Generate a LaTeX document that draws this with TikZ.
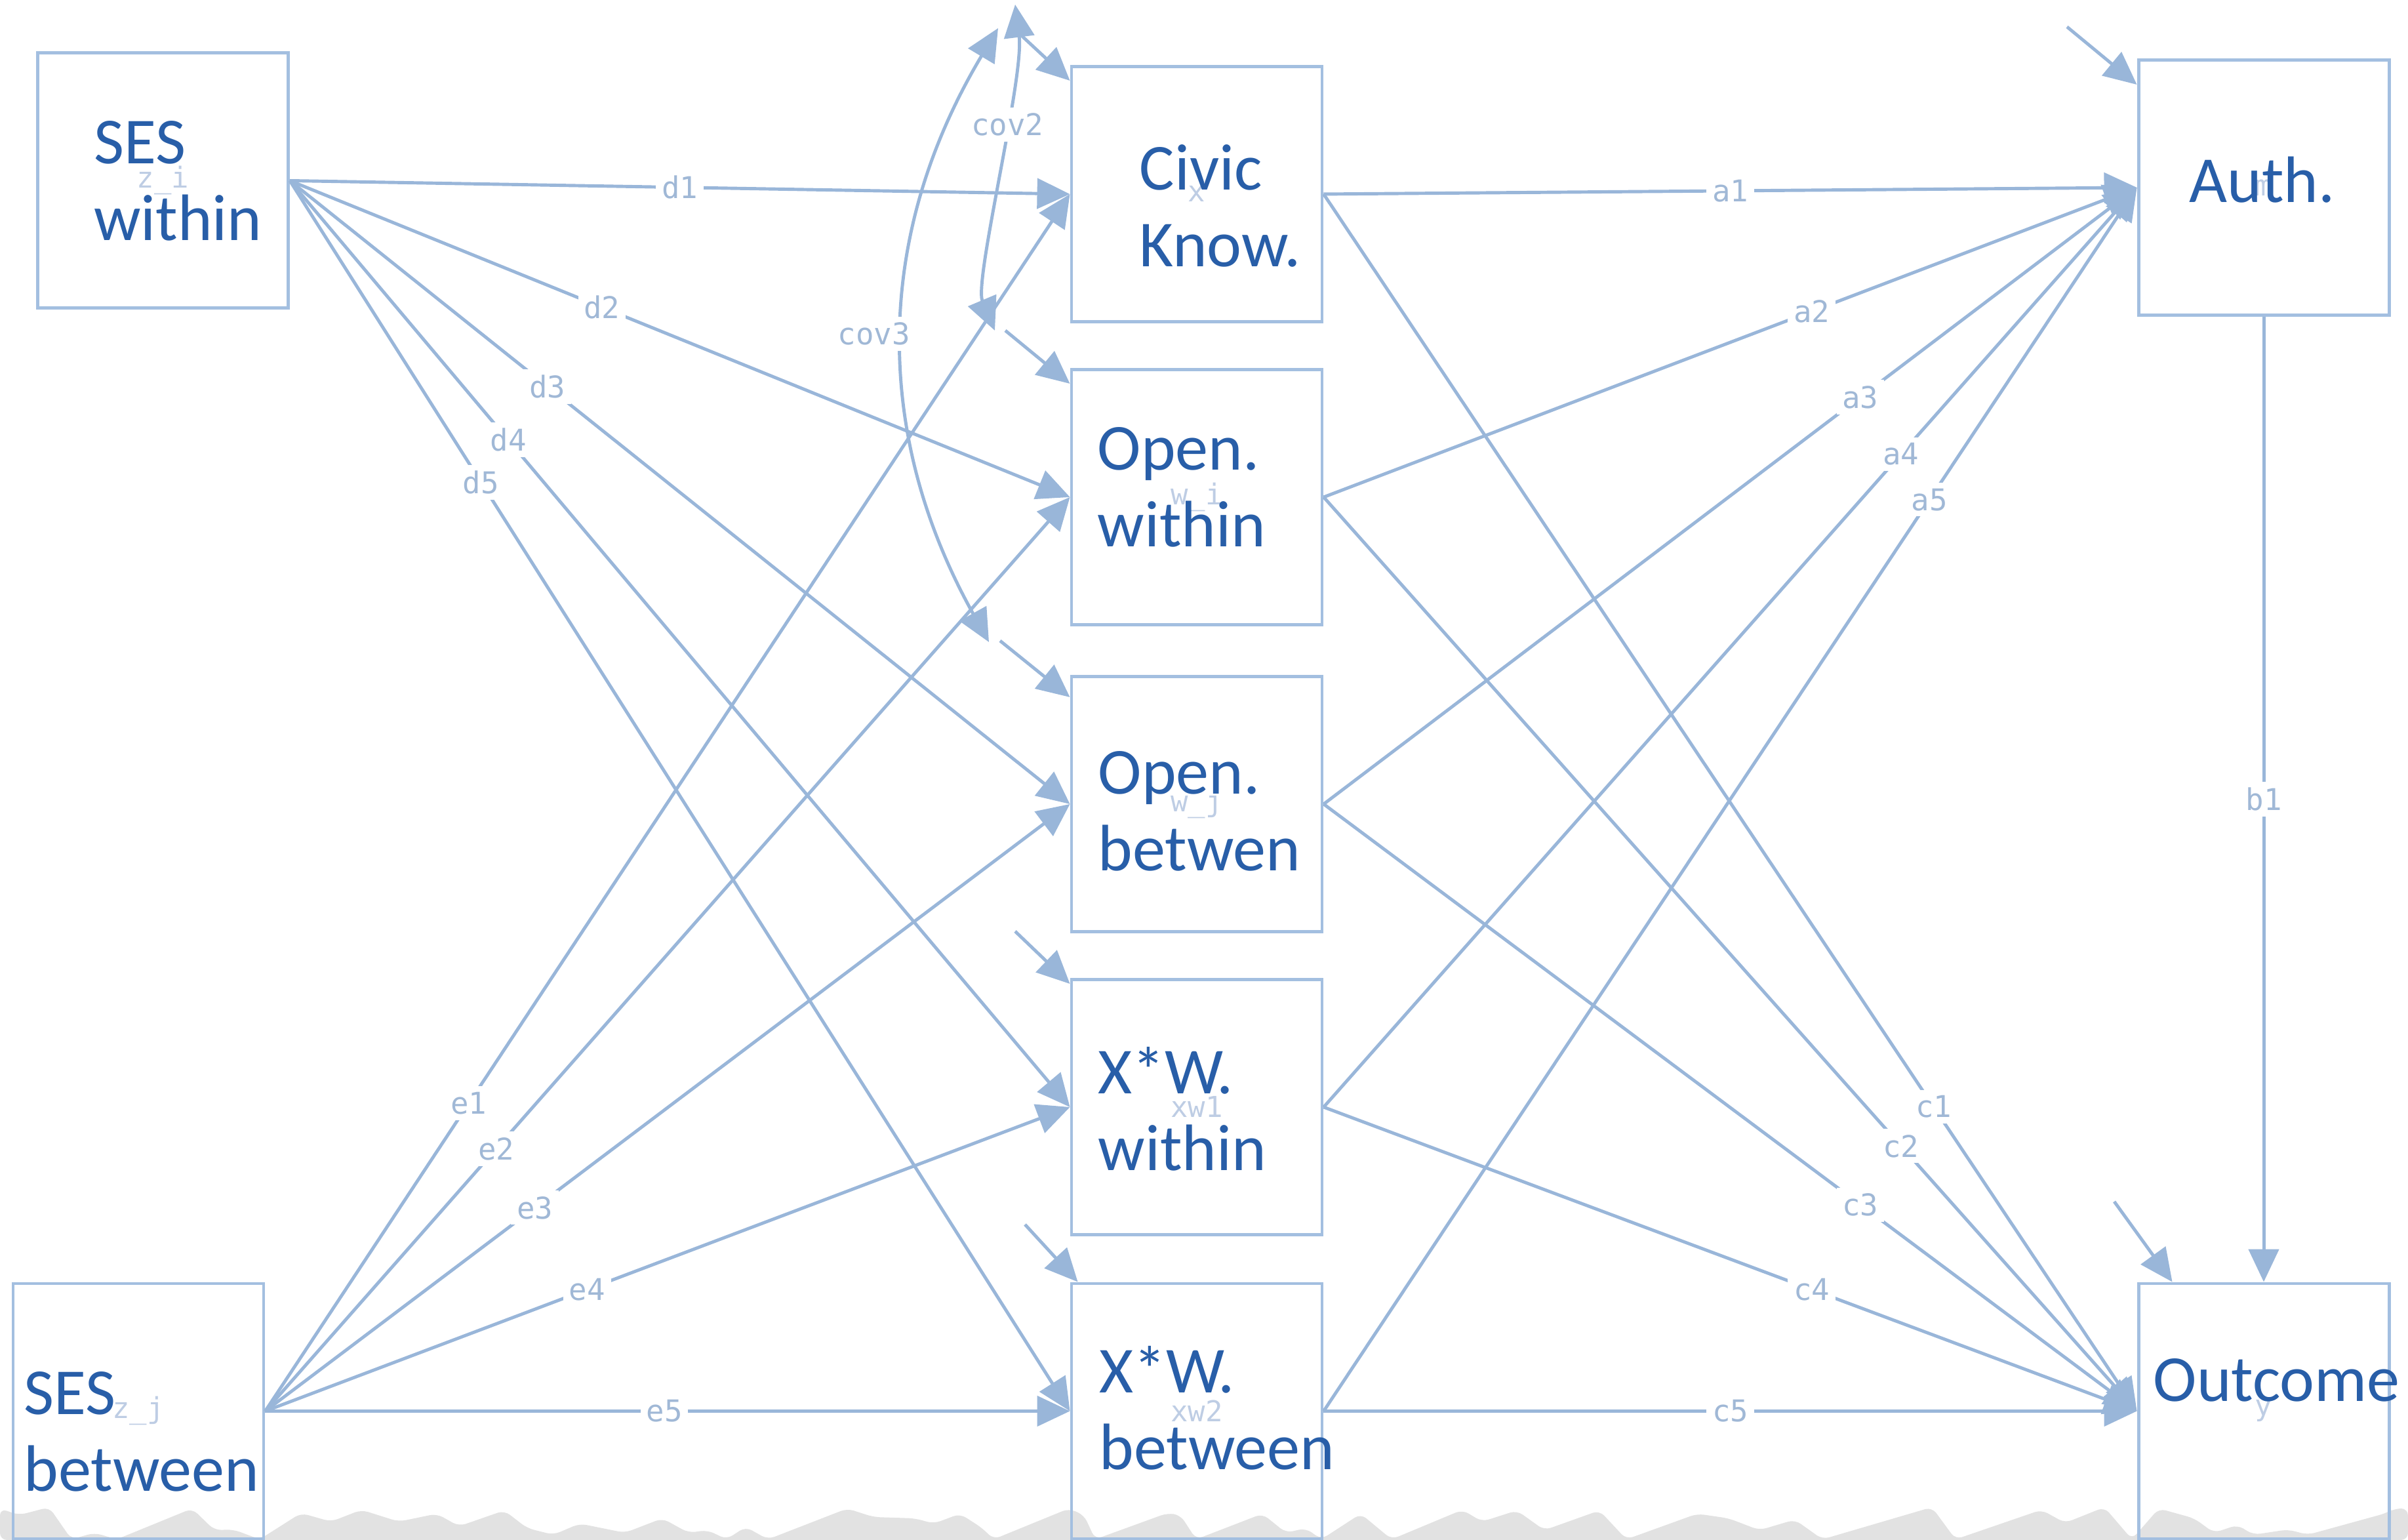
\documentclass[tikz,border=0pt]{standalone}
\usepackage{fontspec}
\setmainfont{Carlito}
\newfontfamily\coeffont{DejaVu Sans Mono}
\usetikzlibrary{arrows.meta,calc}
\newcommand{\LINEPT}{1.4pt}
\newcommand{\BOXPT}{1.4pt}
\newcommand{\HEADLEN}{0.50cm}
\newcommand{\HEADWID}{0.46cm}
\newcommand{\LINESKIP}{1.17}
\definecolor{myline}{RGB}{153,182,217}
\definecolor{mybox}{RGB}{163,191,224}
\definecolor{mytext}{RGB}{40,94,168}
\definecolor{mycoef}{RGB}{160,184,214}
\definecolor{myname}{RGB}{190,205,228}
\definecolor{mytorn}{RGB}{226,226,226}
\tikzset{
	varbox/.style={draw=mybox, line width=\BOXPT, minimum width=3.82cm, minimum height=3.89cm, inner sep=0pt, text=myname, font=\coeffont\fontsize{12.5}{14}\selectfont},
	boxtext/.style={anchor=base west, align=left, inner sep=0pt, text=mytext, font=\fontsize{28.5}{33.3}\selectfont},
	pathline/.style={-{Triangle[length=\HEADLEN,width=\HEADWID]}, color=myline, line width=\LINEPT},
	covline/.style={{Triangle[length=\HEADLEN,width=\HEADWID]}-{Triangle[length=\HEADLEN,width=\HEADWID]}, color=myline, line width=\LINEPT},
	coeff/.style={fill=white, inner sep=2.5pt, text=mycoef, font=\coeffont\fontsize{13}{15}\selectfont},
}
\begin{document}
\begin{tikzpicture}
	\useasboundingbox (0,0) rectangle (36.72,23.48);
	
		%% torn edge at the bottom
		\fill[mytorn, rounded corners=3pt] (0,0) -- (0,0.48) -- (0.29,0.38) -- (0.75,0.50) -- (1.09,0.01) -- (1.44,0.11) -- (1.78,0.01) -- (2.93,0.48) -- (3.27,0.15) -- (3.56,0.16) -- (3.96,0.01) -- (4.59,0.41) -- (5.05,0.28) -- (5.51,0.46) -- (6.08,0.28) -- (6.66,0.40) -- (7.00,0.21) -- (7.69,0.45) -- (8.04,0.18) -- (8.44,0.08) -- (8.84,0.25) -- (9.53,0.11) -- (10.10,0.33) -- (10.50,0.11) -- (10.79,0.15) -- (11.08,0.01) -- (11.37,0.20) -- (11.71,0.01) -- (12.92,0.48) -- (13.32,0.35) -- (13.95,0.33) -- (14.24,0.25) -- (14.64,0.40) -- (14.98,0.18) -- (15.15,0.01) -- (16.30,0.48) -- (16.53,0.38) -- (16.70,0.01) -- (17.80,0.41) -- (18.00,0.38) -- (18.24,0.01) -- (19.25,0.40) -- (19.61,0.11) -- (19.91,0.18) -- (20.15,0.01) -- (20.75,0.40) -- (21.22,0.01) -- (22.30,0.46) -- (22.60,0.28) -- (23.13,0.45) -- (23.55,0.15) -- (24.39,0.45) -- (24.80,0.01) -- (25.88,0.40) -- (26.36,0.33) -- (26.83,0.15) -- (27.37,0.31) -- (27.79,0.01) -- (29.46,0.50) -- (29.82,0.01) -- (31.13,0.46) -- (31.49,0.26) -- (32.09,0.50) -- (32.51,0.01) -- (32.92,0.48) -- (33.46,0.33) -- (33.76,0.11) -- (34.12,0.23) -- (34.36,0.08) -- (34.89,0.16) -- (35.19,0.08) -- (36.39,0.41) -- (36.51,0.48) -- (36.72,0.48) -- (36.72,0) -- cycle;
		
		%% variables
		\node[varbox] (zi) at (2.485,20.725) {z\_i};
		\node[varbox] (zj) at (2.11,1.965) {z\_j};
		\node[varbox] (x) at (18.25,20.52) {x};
		\node[varbox] (wi) at (18.25,15.90) {w\_i};
		\node[varbox] (wj) at (18.25,11.22) {w\_j};
		\node[varbox] (xw1) at (18.25,6.60) {xw1};
		\node[varbox] (xw2) at (18.25,1.965) {xw2};
		\node[varbox] (m) at (34.52,20.62) {m};
		\node[varbox] (y) at (34.52,1.965) {y};
		
		%% base of the last line
		\node[boxtext] (tzi) at ($(zi.center)+(-1.06,0.255-\LINESKIP)$) {SES\\within};
		\node[boxtext] (tzj) at ($(zj.center)+(-1.75,-0.05-\LINESKIP)$) {SES\\between};
		\node[boxtext] (tx) at ($(x.center)+(-0.88,0.06-\LINESKIP)$) {Civic\\Know.};
		\node[boxtext] (twi) at ($(wi.center)+(-1.52,0.415-\LINESKIP)$) {Open.\\within};
		\node[boxtext] (twj) at ($(wj.center)+(-1.51,0.15-\LINESKIP)$) {Open.\\betwen};
		\node[boxtext] (txw1) at ($(xw1.center)+(-1.51,0.20-\LINESKIP)$) {X*W.\\within};
		\node[boxtext] (txw2) at ($(xw2.center)+(-1.49,0.28-\LINESKIP)$) {X*W.\\between};
		\node[boxtext] (tm) at ($(m.center)+(-1.14,-0.23)$) {Auth.};
		\node[boxtext] (ty) at ($(y.center)+(-1.69,0.15)$) {Outcome};
		
		%% SES within
		\draw[pathline] (zi.east) -- (x.west) node[coeff, pos=0.50] (ld1) {d1};
		\draw[pathline] (zi.east) -- (wi.west) node[coeff, pos=0.40] (ld2) {d2};
		\draw[pathline] (zi.east) -- (wj.west) node[coeff, pos=0.33] (ld3) {d3};
		\draw[pathline] (zi.east) -- (xw1.west) node[coeff, pos=0.28] (ld4) {d4};
		\draw[pathline] (zi.east) -- (xw2.west) node[coeff, pos=0.245] (ld5) {d5};
		
		%% SES between
		\draw[pathline] (zj.east) -- (x.west) node[coeff, pos=0.253] (le1) {e1};
		\draw[pathline] (zj.east) -- (wi.west) node[coeff, pos=0.287] (le2) {e2};
		\draw[pathline] (zj.east) -- (wj.west) node[coeff, pos=0.335] (le3) {e3};
		\draw[pathline] (zj.east) -- (xw1.west) node[coeff, pos=0.40] (le4) {e4};
		\draw[pathline] (zj.east) -- (xw2.west) node[coeff, pos=0.496] (le5) {e5};
		
		%% to Auth.
		\draw[pathline] (x.east) -- (m.west) node[coeff, pos=0.50] (la1) {a1};
		\draw[pathline] (wi.east) -- (m.west) node[coeff, pos=0.60] (la2) {a2};
		\draw[pathline] (wj.east) -- (m.west) node[coeff, pos=0.66] (la3) {a3};
		\draw[pathline] (xw1.east) -- (m.west) node[coeff, pos=0.71] (la4) {a4};
		\draw[pathline] (xw2.east) -- (m.west) node[coeff, pos=0.745] (la5) {a5};
		
		%% to Outcome
		\draw[pathline] (x.east) -- (y.west) node[coeff, pos=0.75] (lc1) {c1};
		\draw[pathline] (wi.east) -- (y.west) node[coeff, pos=0.71] (lc2) {c2};
		\draw[pathline] (wj.east) -- (y.west) node[coeff, pos=0.66] (lc3) {c3};
		\draw[pathline] (xw1.east) -- (y.west) node[coeff, pos=0.60] (lc4) {c4};
		\draw[pathline] (xw2.east) -- (y.west) node[coeff, pos=0.50] (lc5) {c5};
		
		\draw[pathline] (m.south) -- (y.north) node[coeff, midway] (lb1) {b1};
		
		%% residuals
		\coordinate (rx) at (15.53,22.98);
		\coordinate (rwi) at (15.33,18.44);
		\coordinate (rwj) at (15.25,13.71);
		\coordinate (rxw1) at (15.48,9.28);
		\coordinate (rxw2) at (15.63,4.81);
		\coordinate (rm) at (31.52,23.07);
		\coordinate (ry) at (32.24,5.16);
		\draw[pathline] (rx) -- ([yshift=-0.24cm]x.north west);
		\draw[pathline] (rwi) -- ([yshift=-0.24cm]wi.north west);
		\draw[pathline] (rwj) -- ([yshift=-0.34cm]wj.north west);
		\draw[pathline] (rxw1) -- ([yshift=-0.09cm]xw1.north west);
		\draw[pathline] (rxw2) -- ([xshift=0.12cm]xw2.north west);
		\draw[pathline] (rm) -- ([yshift=-0.40cm]m.north west);
		\draw[pathline] (ry) -- ([xshift=0.54cm]y.north west);
		
		%% covariances
		\coordinate (cx2) at (15.48,23.41);
		\coordinate (cwi) at (15.17,18.44);
		\coordinate (cx3) at (15.22,23.05);
		\coordinate (cwj) at (15.08,13.69);
		\draw[covline] (cx2) .. controls (15.62,22.3) and (14.85,19.2) .. (cwi) node[coeff, pos=0.37] (lcov2) {cov2};
		\draw[covline] (cx3) to[bend right=30] node[coeff, pos=0.5, xshift=-0.45cm] (lcov3) {cov3} (cwj);

\end{tikzpicture}
\end{document}
